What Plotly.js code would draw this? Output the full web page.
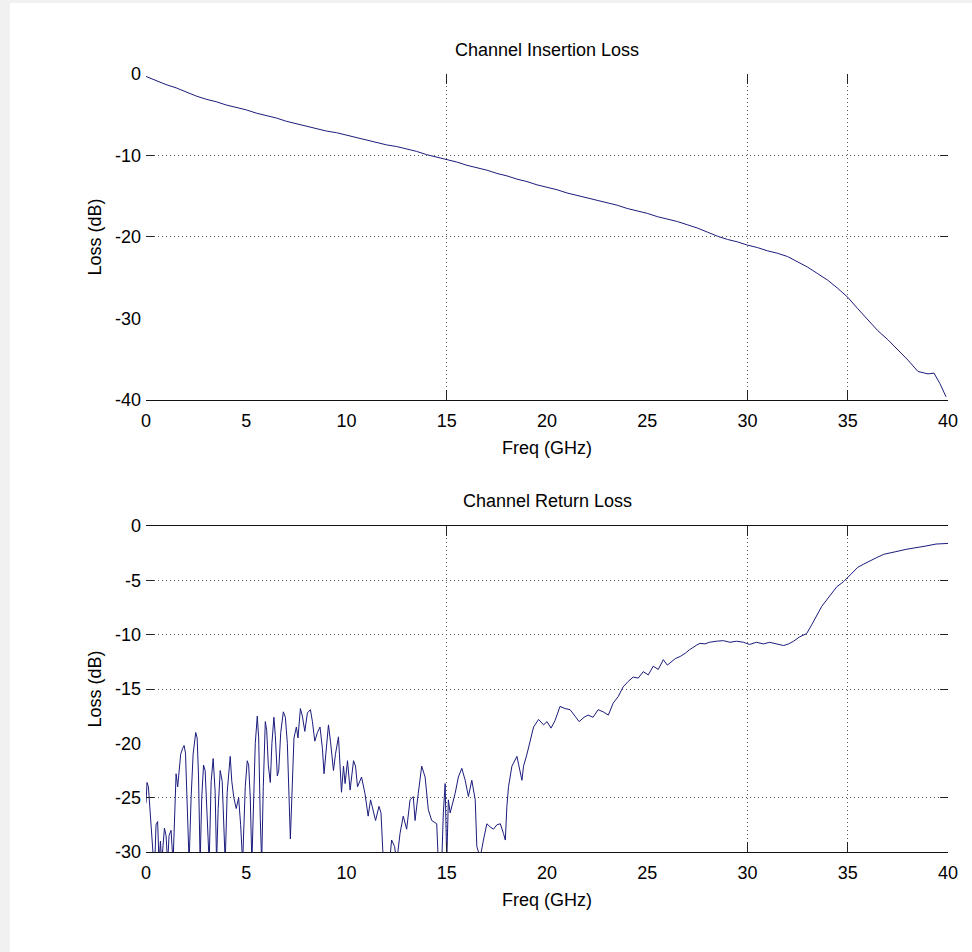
<!DOCTYPE html>
<html><head><meta charset="utf-8">
<script src="https://cdn.plot.ly/plotly-3.0.1.min.js"></script>
<style>
html,body{margin:0;padding:0;background:#f1f1f1;}
#chart{position:absolute;left:10px;top:3px;width:962px;height:949px;background:#fff;}
</style>
</head><body><div id="chart"></div>
<script>
const xTicks = [0, 5, 10, 15, 20, 25, 30, 35, 40];
const ilTicks = [0, -10, -20, -30, -40];
const rlTicks = [0, -5, -10, -15, -20, -25, -30];
const topGridX = [15, 30, 35];
const topGridY = [-10, -20];
const botGridX = [15, 30, 35];
const botGridY = [-5, -10, -15, -25];

const ilFreq = [0,0.5,1,1.5,2,2.5,3,3.5,4,4.5,5,5.5,6,6.5,7,7.5,8,8.5,9,9.5,10,10.5,11,11.5,12,12.5,13,13.5,14,14.5,15,15.5,16,16.5,17,17.5,18,18.5,19,19.5,20,20.5,21,21.5,22,22.5,23,23.5,24,24.5,25,25.5,26,26.5,27,27.5,28,28.5,29,29.5,30,30.5,31,31.5,32,32.5,33,33.5,34,34.5,35,35.5,36,36.5,37,37.5,38,38.5,39,39.3,39.6,39.9];
const ilLoss = [-0.3,-0.8,-1.3,-1.7,-2.2,-2.7,-3.1,-3.4,-3.8,-4.1,-4.4,-4.8,-5.1,-5.4,-5.8,-6.1,-6.4,-6.7,-7.0,-7.2,-7.5,-7.8,-8.1,-8.4,-8.7,-8.9,-9.2,-9.5,-9.9,-10.2,-10.5,-10.8,-11.2,-11.5,-11.8,-12.2,-12.5,-12.9,-13.2,-13.6,-13.9,-14.2,-14.6,-14.9,-15.2,-15.5,-15.8,-16.1,-16.5,-16.8,-17.1,-17.5,-17.8,-18.1,-18.5,-18.9,-19.4,-19.9,-20.3,-20.6,-21.0,-21.3,-21.7,-22.0,-22.4,-23.0,-23.7,-24.5,-25.3,-26.3,-27.4,-28.8,-30.2,-31.5,-32.6,-33.8,-35.1,-36.5,-36.8,-36.7,-38.0,-39.6];

const rlFreq = [0.00,0.05,0.12,0.20,0.27,0.33,0.42,0.50,0.58,0.65,0.72,0.78,0.92,1.00,1.08,1.15,1.25,1.35,1.45,1.50,1.58,1.65,1.73,1.82,1.90,1.97,2.05,2.15,2.25,2.35,2.48,2.55,2.62,2.70,2.78,2.87,2.95,3.05,3.15,3.25,3.35,3.45,3.52,3.60,3.70,3.80,3.88,3.95,4.05,4.20,4.28,4.38,4.50,4.62,4.72,4.82,4.95,5.05,5.12,5.20,5.28,5.35,5.45,5.55,5.62,5.70,5.77,5.85,5.95,6.02,6.10,6.20,6.28,6.38,6.45,6.55,6.62,6.72,6.85,6.95,7.05,7.20,7.30,7.38,7.50,7.58,7.70,7.80,7.92,8.05,8.20,8.30,8.42,8.55,8.68,8.80,8.88,8.98,9.10,9.20,9.35,9.45,9.60,9.75,9.85,9.93,10.05,10.18,10.35,10.45,10.55,10.75,10.92,11.08,11.20,11.28,11.45,11.62,11.72,11.84,12.00,12.17,12.25,12.40,12.50,12.67,12.83,13.00,13.17,13.33,13.42,13.58,13.75,13.92,14.08,14.25,14.50,14.58,14.75,14.83,14.92,15.00,15.08,15.17,15.42,15.58,15.75,15.92,16.08,16.25,16.42,16.50,16.67,16.83,17.00,17.17,17.33,17.50,17.67,17.83,17.92,18.00,18.08,18.25,18.50,18.75,18.83,19.00,19.17,19.33,19.58,19.83,20.00,20.20,20.40,20.65,20.90,21.15,21.40,21.60,21.85,22.05,22.30,22.55,22.80,23.06,23.30,23.55,23.80,24.05,24.30,24.55,24.80,25.05,25.30,25.55,25.80,26.00,26.40,26.65,26.90,27.10,27.47,27.63,27.88,28.10,28.45,28.80,29.13,29.45,29.80,30.10,30.45,30.80,31.10,31.45,31.80,32.05,32.30,32.60,32.95,33.20,33.45,33.70,33.95,34.20,34.45,34.80,35.00,35.30,35.50,35.80,36.10,36.45,36.80,37.10,37.40,37.90,38.40,38.90,39.40,39.90,40.00];
const rlLoss = [-25.5,-23.6,-24.0,-26.5,-28.0,-31.0,-32.0,-27.5,-27.2,-31.0,-29.0,-31.0,-27.8,-28.5,-31.0,-28.5,-28.0,-31.0,-24.5,-22.8,-24.0,-22.3,-21.0,-20.5,-20.2,-20.9,-24.5,-31.0,-25.0,-21.0,-19.0,-19.5,-23.0,-31.0,-25.0,-22.0,-22.5,-26.5,-31.0,-23.5,-21.4,-24.5,-31.0,-26.0,-22.5,-23.5,-27.0,-31.0,-24.5,-21.2,-23.5,-25.0,-26.0,-25.0,-27.5,-31.0,-24.0,-21.6,-22.0,-25.0,-31.0,-26.0,-20.0,-17.5,-19.5,-27.0,-31.0,-24.0,-18.0,-18.8,-22.0,-23.6,-20.0,-17.6,-19.3,-23.0,-22.5,-19.0,-17.1,-17.6,-20.0,-28.8,-24.0,-19.5,-18.5,-19.5,-16.8,-17.5,-18.9,-17.2,-16.9,-18.0,-19.8,-19.0,-18.5,-20.5,-22.8,-21.0,-18.3,-19.8,-22.5,-21.0,-19.4,-24.5,-22.1,-23.7,-21.6,-24.3,-21.6,-22.1,-24.0,-23.1,-24.6,-26.7,-25.2,-25.8,-27.1,-25.8,-26.4,-31.0,-32.0,-30.5,-28.9,-29.5,-31.0,-28.3,-26.7,-27.9,-25.2,-24.9,-27.1,-24.6,-22.1,-23.1,-26.1,-27.1,-27.4,-31.0,-31.0,-26.4,-23.7,-31.0,-25.2,-26.4,-24.6,-23.1,-22.3,-23.4,-24.9,-23.4,-25.2,-29.5,-30.5,-28.9,-27.4,-27.7,-27.9,-27.5,-27.4,-28.3,-28.9,-25.8,-24.0,-22.1,-21.2,-23.4,-22.1,-21.0,-19.7,-18.5,-17.8,-18.3,-18.0,-18.6,-17.9,-16.6,-16.8,-16.9,-17.5,-18.0,-17.6,-17.4,-17.6,-16.9,-17.1,-17.4,-16.3,-15.7,-14.8,-14.3,-13.9,-14.0,-13.4,-13.7,-12.9,-13.2,-12.3,-12.8,-12.2,-12.0,-11.7,-11.4,-10.95,-10.8,-10.85,-10.7,-10.6,-10.55,-10.7,-10.6,-10.7,-10.9,-10.7,-10.85,-10.7,-10.85,-11.0,-10.85,-10.6,-10.2,-9.9,-9.1,-8.2,-7.4,-6.8,-6.2,-5.6,-5.1,-4.7,-4.2,-3.8,-3.5,-3.2,-2.9,-2.6,-2.45,-2.36,-2.15,-1.96,-1.84,-1.66,-1.6,-1.6];

const lineColor = '#1b1b7d';
const gridColor = '#555555';
const gridDash = '1px,3px';
const fontFam = 'Liberation Sans, Arial, Helvetica, sans-serif';

const traces = [
  {x: ilFreq, y: ilLoss, xaxis: 'x', yaxis: 'y', mode: 'lines', line: {color: lineColor, width: 1}, showlegend: false, hoverinfo: 'skip'},
  {x: rlFreq, y: rlLoss, xaxis: 'x2', yaxis: 'y2', mode: 'lines', line: {color: lineColor, width: 1}, showlegend: false, hoverinfo: 'skip'},
  {x: [], y: [], xaxis: 'x3', yaxis: 'y3', mode: 'lines', showlegend: false, hoverinfo: 'skip'},
  {x: [], y: [], xaxis: 'x4', yaxis: 'y4', mode: 'lines', showlegend: false, hoverinfo: 'skip'}
];

function mainX(anchor, mirror) {
  return {anchor: anchor, domain: [0, 1], range: [0, 40], tickvals: xTicks, ticktext: xTicks.map(String),
    ticks: '', showgrid: false, zeroline: false, showline: true, linecolor: '#111', linewidth: 1, mirror: mirror,
    ticklabelstandoff: 4, tickfont: {size: 18, family: fontFam, color: '#000'},
    title: {text: 'Freq (GHz)', standoff: 11, font: {size: 18, family: fontFam, color: '#000'}}};
}
function mainY(anchor, dom, rng, tv) {
  return {anchor: anchor, domain: dom, range: rng, tickvals: tv, ticktext: tv.map(String),
    ticks: '', showgrid: false, zeroline: false, showline: false,
    ticklabelstandoff: 4, tickfont: {size: 18, family: fontFam, color: '#000'},
    title: {text: 'Loss (dB)', standoff: 8, font: {size: 18, family: fontFam, color: '#000'}}};
}
function gridX(over, anchor, tv) {
  return {overlaying: over, anchor: anchor, range: [0, 40], tickvals: tv, showticklabels: false,
    ticks: 'inside', ticklen: 10, tickwidth: 1, tickcolor: '#222', mirror: 'ticks',
    showgrid: true, gridcolor: gridColor, gridwidth: 1, griddash: gridDash, zeroline: false, showline: false};
}
function gridY(over, anchor, rng, tv) {
  return {overlaying: over, anchor: anchor, range: rng, tickvals: tv, showticklabels: false,
    ticks: 'inside', ticklen: 8, tickwidth: 1, tickcolor: '#222', mirror: 'ticks',
    showgrid: true, gridcolor: gridColor, gridwidth: 1, griddash: gridDash, zeroline: false, showline: false};
}

const layout = {
  width: 962, height: 949,
  margin: {l: 136, r: 24, t: 71, b: 100},
  paper_bgcolor: '#ffffff', plot_bgcolor: 'rgba(0,0,0,0)',
  font: {family: fontFam, size: 18, color: '#000'},
  showlegend: false,
  xaxis: mainX('y', false),
  yaxis: mainY('x', [0.581, 1], [-40, 0], ilTicks),
  xaxis2: mainX('y2', true),
  yaxis2: mainY('x2', [0, 0.419], [-30, 0], rlTicks),
  xaxis3: gridX('x', 'y3', topGridX),
  yaxis3: gridY('y', 'x3', [-40, 0], topGridY),
  xaxis4: gridX('x2', 'y4', botGridX),
  yaxis4: gridY('y2', 'x4', [-30, 0], botGridY),
  annotations: [
    {text: 'Channel Insertion Loss', xref: 'paper', yref: 'paper', x: 0.5, y: 1.0308, xanchor: 'center', yanchor: 'middle', showarrow: false, font: {size: 18, family: fontFam, color: '#000'}},
    {text: 'Channel Return Loss', xref: 'paper', yref: 'paper', x: 0.5, y: 0.4512, xanchor: 'center', yanchor: 'middle', showarrow: false, font: {size: 18, family: fontFam, color: '#000'}}
  ]
};

Plotly.newPlot('chart', traces, layout, {displayModeBar: false, staticPlot: true});
</script>
</body></html>
